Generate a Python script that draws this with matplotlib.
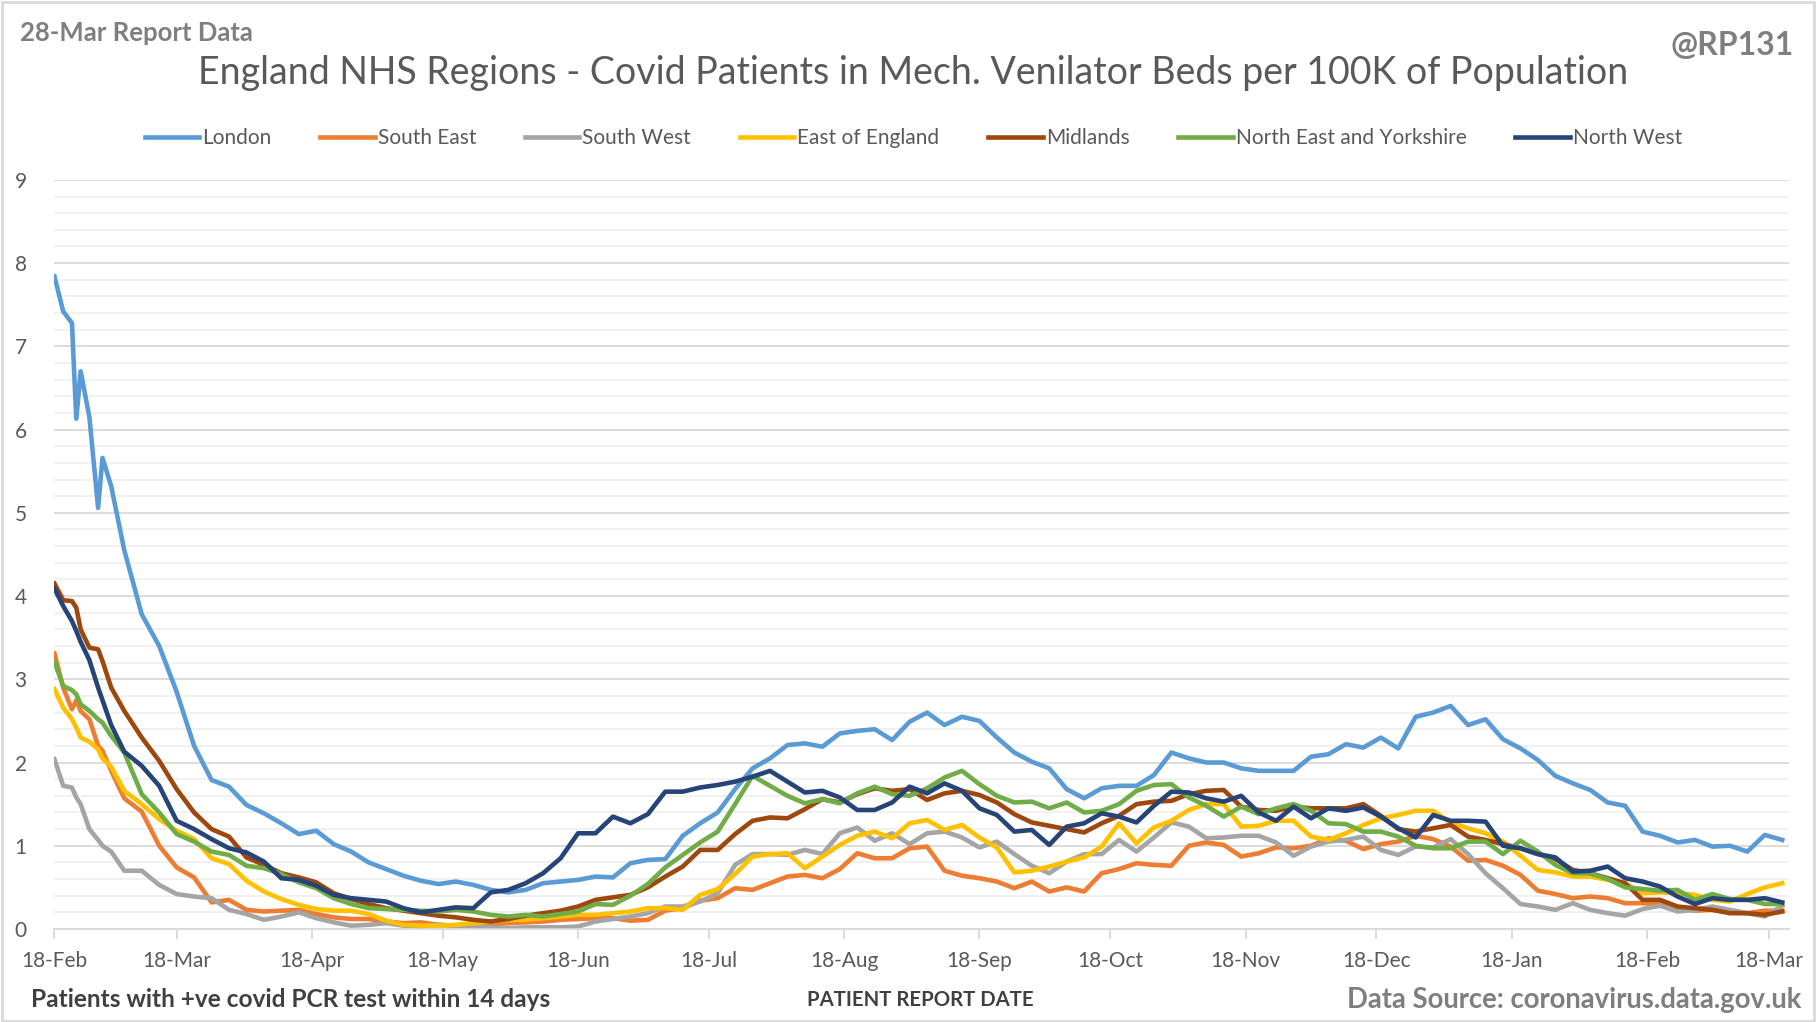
import pandas as pd
import matplotlib
matplotlib.use('Agg')
import matplotlib.pyplot as plt
import matplotlib.dates as mdates
from matplotlib.ticker import MultipleLocator
from matplotlib.patches import Rectangle

plt.rcParams['font.family'] = ['Lato', 'DejaVu Sans']

# days after 18-Feb-2021 at which values were read
start = pd.Timestamp('2021-02-18')
day_offsets = [0, 2, 4, 5, 6, 8, 10, 11, 13, 16, 20] + list(range(24, 397, 4))

london = [7.84, 7.42, 7.28, 6.13, 6.70, 6.15, 5.06, 5.66, 5.32, 4.55, 3.78,
          3.40, 2.85, 2.20, 1.79, 1.71, 1.49, 1.39, 1.27, 1.14, 1.18, 1.02, 0.93, 0.80, 0.72, 0.64,
          0.58, 0.54, 0.57, 0.53, 0.47, 0.44, 0.47, 0.55, 0.57, 0.59, 0.63, 0.62, 0.79, 0.83,
          0.84, 1.12, 1.27, 1.40, 1.68, 1.93, 2.05, 2.21, 2.23, 2.19, 2.35, 2.38, 2.40, 2.27, 2.49,
          2.60, 2.45, 2.55, 2.50, 2.30, 2.12, 2.01, 1.93, 1.68, 1.57, 1.69, 1.72, 1.72, 1.85, 2.12,
          2.05, 2.00, 2.00, 1.93,
          1.90, 1.90, 1.90, 2.07, 2.10, 2.22, 2.18, 2.30, 2.17, 2.55, 2.60, 2.68, 2.45, 2.52, 2.28,
          2.17, 2.03, 1.84, 1.75, 1.67, 1.52, 1.48, 1.17, 1.12, 1.04, 1.07, 0.99, 1.00, 0.93, 1.13, 1.07]
south_east = [3.31, 2.90, 2.64, 2.75, 2.62, 2.52, 2.20, 2.14, 1.90, 1.57, 1.41,
              1.00, 0.74, 0.62, 0.32, 0.35, 0.23, 0.21, 0.22, 0.23, 0.18, 0.14, 0.12, 0.12, 0.09, 0.07,
              0.08, 0.05, 0.04, 0.05, 0.06, 0.07, 0.08, 0.09, 0.11, 0.12, 0.13, 0.13, 0.10, 0.11,
              0.22, 0.25, 0.34, 0.37, 0.49, 0.47, 0.55, 0.63, 0.65, 0.61, 0.72, 0.91, 0.85, 0.85, 0.97,
              0.99, 0.70, 0.64, 0.61, 0.57, 0.49, 0.57, 0.45, 0.50, 0.45, 0.67, 0.72, 0.79, 0.77, 0.76,
              1.00, 1.04, 1.01, 0.87,
              0.91, 0.98, 0.97, 1.00, 1.09, 1.06, 0.96, 1.02, 1.05, 1.12, 1.08, 0.99, 0.82, 0.83, 0.76,
              0.65, 0.46, 0.42, 0.37, 0.39, 0.37, 0.31, 0.31, 0.30, 0.25, 0.22, 0.23, 0.20, 0.19, 0.22, 0.22]
south_west = [2.04, 1.72, 1.70, 1.58, 1.50, 1.20, 1.07, 1.00, 0.93, 0.70, 0.70,
              0.53, 0.42, 0.39, 0.37, 0.23, 0.18, 0.11, 0.15, 0.20, 0.13, 0.08, 0.04, 0.05, 0.07, 0.04,
              0.03, 0.05, 0.04, 0.03, 0.02, 0.01, 0.02, 0.02, 0.02, 0.03, 0.09, 0.12, 0.15, 0.19,
              0.27, 0.27, 0.33, 0.43, 0.77, 0.90, 0.90, 0.89, 0.95, 0.90, 1.15, 1.22, 1.06, 1.15, 1.02,
              1.15, 1.17, 1.10, 0.98, 1.05, 0.90, 0.76, 0.67, 0.81, 0.90, 0.90, 1.07, 0.93, 1.10, 1.28,
              1.23, 1.09, 1.10, 1.12,
              1.12, 1.04, 0.88, 0.99, 1.05, 1.07, 1.11, 0.95, 0.89, 0.99, 0.98, 1.08, 0.90, 0.67, 0.49,
              0.30, 0.27, 0.23, 0.31, 0.23, 0.19, 0.16, 0.24, 0.28, 0.21, 0.23, 0.27, 0.23, 0.19, 0.15, 0.28]
east_of_england = [2.88, 2.66, 2.52, 2.42, 2.30, 2.25, 2.16, 2.05, 1.95, 1.66, 1.50,
                   1.32, 1.18, 1.08, 0.85, 0.78, 0.58, 0.45, 0.36, 0.29, 0.24, 0.22, 0.22, 0.18, 0.10, 0.05,
                   0.04, 0.04, 0.05, 0.07, 0.09, 0.11, 0.11, 0.13, 0.15, 0.17, 0.17, 0.19, 0.21, 0.25,
                   0.25, 0.23, 0.41, 0.48, 0.66, 0.87, 0.90, 0.91, 0.73, 0.87, 1.01, 1.12, 1.17, 1.09, 1.27,
                   1.31, 1.19, 1.25, 1.10, 0.98, 0.68, 0.70, 0.75, 0.81, 0.86, 0.99, 1.27, 1.03, 1.22, 1.30,
                   1.43, 1.50, 1.50, 1.23,
                   1.24, 1.30, 1.30, 1.11, 1.07, 1.15, 1.25, 1.33, 1.37, 1.42, 1.42, 1.28, 1.21, 1.15, 1.05,
                   0.88, 0.71, 0.68, 0.63, 0.63, 0.59, 0.55, 0.43, 0.44, 0.43, 0.41, 0.35, 0.33, 0.42, 0.50, 0.55]
midlands = [4.15, 3.95, 3.94, 3.86, 3.60, 3.38, 3.36, 3.22, 2.90, 2.62, 2.30,
            2.02, 1.68, 1.40, 1.20, 1.11, 0.86, 0.77, 0.67, 0.62, 0.56, 0.43, 0.36, 0.30, 0.25, 0.22,
            0.19, 0.16, 0.14, 0.11, 0.09, 0.12, 0.16, 0.19, 0.22, 0.27, 0.35, 0.38, 0.41, 0.50,
            0.63, 0.75, 0.95, 0.95, 1.14, 1.30, 1.34, 1.33, 1.44, 1.56, 1.52, 1.62, 1.69, 1.66, 1.68,
            1.55, 1.63, 1.66, 1.61, 1.52, 1.38, 1.28, 1.24, 1.20, 1.16, 1.27, 1.36, 1.50, 1.53, 1.54,
            1.62, 1.66, 1.67, 1.47,
            1.43, 1.42, 1.47, 1.45, 1.45, 1.45, 1.50, 1.36, 1.20, 1.17, 1.21, 1.25, 1.11, 1.07, 1.02,
            0.97, 0.90, 0.84, 0.71, 0.67, 0.61, 0.55, 0.35, 0.35, 0.27, 0.25, 0.23, 0.19, 0.19, 0.17, 0.21]
ne_yorkshire = [3.21, 2.92, 2.87, 2.82, 2.70, 2.62, 2.52, 2.48, 2.32, 2.12, 1.62,
                1.40, 1.14, 1.05, 0.93, 0.89, 0.76, 0.73, 0.66, 0.56, 0.49, 0.37, 0.30, 0.25, 0.24, 0.23,
                0.22, 0.21, 0.23, 0.21, 0.17, 0.15, 0.17, 0.15, 0.18, 0.21, 0.30, 0.29, 0.40, 0.54,
                0.74, 0.89, 1.04, 1.17, 1.50, 1.84, 1.72, 1.60, 1.51, 1.56, 1.51, 1.63, 1.71, 1.62, 1.60,
                1.69, 1.82, 1.90, 1.74, 1.60, 1.52, 1.53, 1.45, 1.52, 1.40, 1.42, 1.50, 1.66, 1.73, 1.74,
                1.58, 1.48, 1.35, 1.47,
                1.38, 1.45, 1.50, 1.42, 1.27, 1.26, 1.17, 1.17, 1.11, 1.00, 0.97, 0.97, 1.05, 1.05, 0.90,
                1.06, 0.93, 0.77, 0.67, 0.67, 0.60, 0.50, 0.48, 0.46, 0.47, 0.35, 0.42, 0.36, 0.35, 0.30, 0.30]
north_west = [4.09, 3.88, 3.70, 3.58, 3.45, 3.23, 2.90, 2.75, 2.45, 2.13, 1.96,
              1.72, 1.30, 1.20, 1.08, 0.97, 0.92, 0.81, 0.61, 0.59, 0.52, 0.41, 0.37, 0.35, 0.33, 0.25,
              0.20, 0.23, 0.26, 0.25, 0.44, 0.47, 0.55, 0.67, 0.85, 1.15, 1.15, 1.35, 1.27, 1.38,
              1.65, 1.65, 1.70, 1.73, 1.77, 1.83, 1.90, 1.77, 1.64, 1.66, 1.58, 1.43, 1.43, 1.52, 1.71,
              1.63, 1.75, 1.66, 1.45, 1.37, 1.17, 1.19, 1.01, 1.23, 1.27, 1.39, 1.35, 1.28, 1.48, 1.65,
              1.64, 1.57, 1.53, 1.60,
              1.40, 1.30, 1.47, 1.33, 1.45, 1.42, 1.46, 1.35, 1.21, 1.10, 1.37, 1.30, 1.30, 1.29, 1.00,
              0.97, 0.90, 0.86, 0.69, 0.70, 0.75, 0.61, 0.57, 0.51, 0.39, 0.30, 0.37, 0.35, 0.35, 0.37, 0.32]

series_names = ['London', 'South East', 'South West', 'East of England', 'Midlands',
                'North East and Yorkshire', 'North West']
series_data = [london, south_east, south_west, east_of_england, midlands, ne_yorkshire, north_west]
series_colors = ['#5B9BD5', '#ED7D31', '#A5A5A5', '#FFC000', '#9E480E', '#70AD47', '#264478']

dates = start + pd.to_timedelta(day_offsets, unit='D')

fig = plt.figure(figsize=(18.16, 10.22), dpi=100)
ax = fig.add_axes([0.030, 0.091, 0.955, 0.733])

for name, vals, col in zip(series_names, series_data, series_colors):
    ax.plot(dates, vals, color=col, lw=3.3, label=name, solid_joinstyle='round')

ax.set_ylim(0, 9)
ax.set_xlim(start, start + pd.Timedelta(days=397.5))
ax.yaxis.set_major_locator(MultipleLocator(1))
ax.yaxis.set_minor_locator(MultipleLocator(0.2))
ax.grid(which='major', axis='y', color='#D9D9D9', lw=1.3)
ax.grid(which='minor', axis='y', color='#F0F0F0', lw=1.3)
ax.set_axisbelow(True)

ax.xaxis.set_major_locator(mdates.MonthLocator(bymonthday=18))
ax.xaxis.set_major_formatter(mdates.DateFormatter('%d-%b'))
ax.tick_params(axis='x', which='major', length=7, width=1.3, color='#D9D9D9',
               labelsize=15, labelcolor='#595959', pad=9)
ax.tick_params(axis='y', which='both', length=0, labelsize=15, labelcolor='#595959', pad=20)
for s in ['top', 'right', 'left']:
    ax.spines[s].set_visible(False)
ax.spines['bottom'].set_color('#D9D9D9')
ax.spines['bottom'].set_linewidth(1.3)

leg = fig.legend(loc='center', bbox_to_anchor=(0.503, 0.865), ncol=7, frameon=False,
                 fontsize=15, handlelength=2.6, handletextpad=0.15, columnspacing=2.35)
for t in leg.get_texts():
    t.set_color('#595959')
for h in leg.legend_handles:
    h.set_linewidth(3.3)

fig.text(0.503, 0.929, 'England NHS Regions - Covid Patients in Mech. Venilator Beds per 100K of Population',
         ha='center', va='center', fontsize=27, color='#595959')
fig.text(0.011, 0.968, '28-Mar Report Data', ha='left', va='center', fontsize=18.5,
         fontweight='bold', color='#7F7F7F')
fig.text(0.988, 0.955, '@RP131', ha='right', va='center', fontsize=23,
         fontweight='bold', color='#7F7F7F')
fig.text(0.017, 0.022, 'Patients with +ve covid PCR test within 14 days', ha='left', va='center',
         fontsize=17.6, fontweight='bold', color='#404040')
fig.text(0.507, 0.022, 'PATIENT REPORT DATE', ha='center', va='center', fontsize=14.7,
         fontweight='bold', color='#404040')
fig.text(0.992, 0.022, 'Data Source: coronavirus.data.gov.uk', ha='right', va='center',
         fontsize=19.8, fontweight='bold', color='#7F7F7F')

fig.patches.append(Rectangle((0.001, 0.001), 0.998, 0.997, transform=fig.transFigure,
                             fill=False, edgecolor='#D9D9D9', lw=2))

fig.savefig('out.png', dpi=100, facecolor='white')
